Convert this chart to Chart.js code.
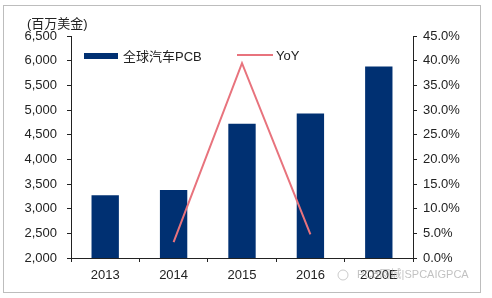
<!DOCTYPE html>
<html>
<head>
<meta charset="utf-8">
<script src="https://cdn.jsdelivr.net/npm/chart.js@4.4.1/dist/chart.umd.min.js"></script>
<style>
  html, body { margin: 0; padding: 0; background: #fff; }
  #wrap { width: 492px; height: 298px; position: relative; }
</style>
</head>
<body>
<div id="wrap"><canvas id="chart" width="492" height="298"></canvas></div>
<script>
// chart data
const years = ['2013', '2014', '2015', '2016', '2020E']
const pcbSales = [3270, 3380, 4720, 4930, 5880]
const yoyGrowth = [null, 3.2, 39.5, 4.8, null]
const leftTicks = [2000, 6500, 500]
const rightTicks = [0, 45, 5]

const navy = '#003072'
const pink = '#e8737d'
const fontFamily = 'Liberation Sans, Arial, "Noto Sans CJK SC", sans-serif'

// frame, unit label, legend and watermark
const decorations = {
  id: 'decorations',
  beforeDraw(chart) {
    const ctx = chart.ctx
    ctx.save()
    ctx.fillStyle = '#fff'
    ctx.fillRect(0, 0, chart.width, chart.height)
    ctx.strokeStyle = '#bdbdbd'
    ctx.lineWidth = 1
    ctx.strokeRect(3.5, 5.5, 477, 287)
    ctx.restore()
  },
  afterDraw(chart) {
    const ctx = chart.ctx
    const sets = chart.data.datasets
    ctx.save()
    ctx.fillStyle = '#222'
    ctx.font = '13px ' + fontFamily
    ctx.textBaseline = 'middle'
    ctx.textAlign = 'left'
    ctx.fillText('(百万美金)', 27, 24)

    // legend: bars
    ctx.fillStyle = sets[0].backgroundColor
    ctx.fillRect(84, 53, 34, 6)
    ctx.fillStyle = '#222'
    ctx.fillText(sets[0].label, 123, 57)
    // legend: line
    ctx.strokeStyle = sets[1].borderColor
    ctx.lineWidth = 2
    ctx.beginPath()
    ctx.moveTo(237, 55)
    ctx.lineTo(273, 55)
    ctx.stroke()
    ctx.fillText(sets[1].label, 276, 56)

    // watermark
    ctx.globalAlpha = 0.6
    ctx.fillStyle = '#9a9a9a'
    ctx.font = '11px ' + fontFamily
    ctx.fillText('PCB网城|SPCAIGPCA', 357, 275)
    ctx.beginPath()
    ctx.strokeStyle = '#aaa'
    ctx.lineWidth = 1
    ctx.arc(343, 275, 5, 0, Math.PI * 2)
    ctx.stroke()
    ctx.restore()
  }
}

new Chart(document.getElementById('chart'), {
  type: 'bar',
  data: {
    labels: years,
    datasets: [
      {
        type: 'bar',
        label: '全球汽车PCB',
        data: pcbSales,
        backgroundColor: navy,
        yAxisID: 'y',
        categoryPercentage: 1,
        barPercentage: 0.4,
        order: 2,
      },
      {
        type: 'line',
        label: 'YoY',
        data: yoyGrowth,
        borderColor: pink,
        borderWidth: 2,
        pointRadius: 0,
        tension: 0,
        yAxisID: 'y1',
        order: 1,
      },
    ]
  },
  options: {
    responsive: false,
    animation: false,
    layout: { padding: { top: 36, left: 0, right: 0, bottom: 0 } },
    plugins: { legend: { display: false }, tooltip: { enabled: false } },
    scales: {
      x: {
        offset: true,
        afterFit: (s) => { s.height = 40 },
        grid: { offset: true, drawOnChartArea: false, drawTicks: true, tickLength: 4, color: '#222' },
        border: { display: true, color: '#222' },
        ticks: { color: '#222', padding: 6, font: { size: 13, family: fontFamily } },
      },
      y: {
        position: 'left',
        min: leftTicks[0],
        max: leftTicks[1],
        afterFit: (s) => { s.width = 71 },
        grid: { drawOnChartArea: false, drawTicks: true, tickLength: 4, color: '#222' },
        border: { display: true, color: '#222' },
        ticks: {
          stepSize: leftTicks[2],
          color: '#222',
          padding: 10,
          font: { size: 13, family: fontFamily },
          callback: (v) => v.toLocaleString('en-US'),
        },
      },
      y1: {
        position: 'right',
        min: rightTicks[0],
        max: rightTicks[1],
        afterFit: (s) => { s.width = 79 },
        grid: { drawOnChartArea: false, drawTicks: true, tickLength: 4, color: '#222' },
        border: { display: true, color: '#222' },
        ticks: {
          stepSize: rightTicks[2],
          color: '#222',
          padding: 6,
          font: { size: 13, family: fontFamily },
          callback: (v) => v.toFixed(1) + '%',
        },
      },
    }
  },
  plugins: [decorations]
})
</script>
</body>
</html>
